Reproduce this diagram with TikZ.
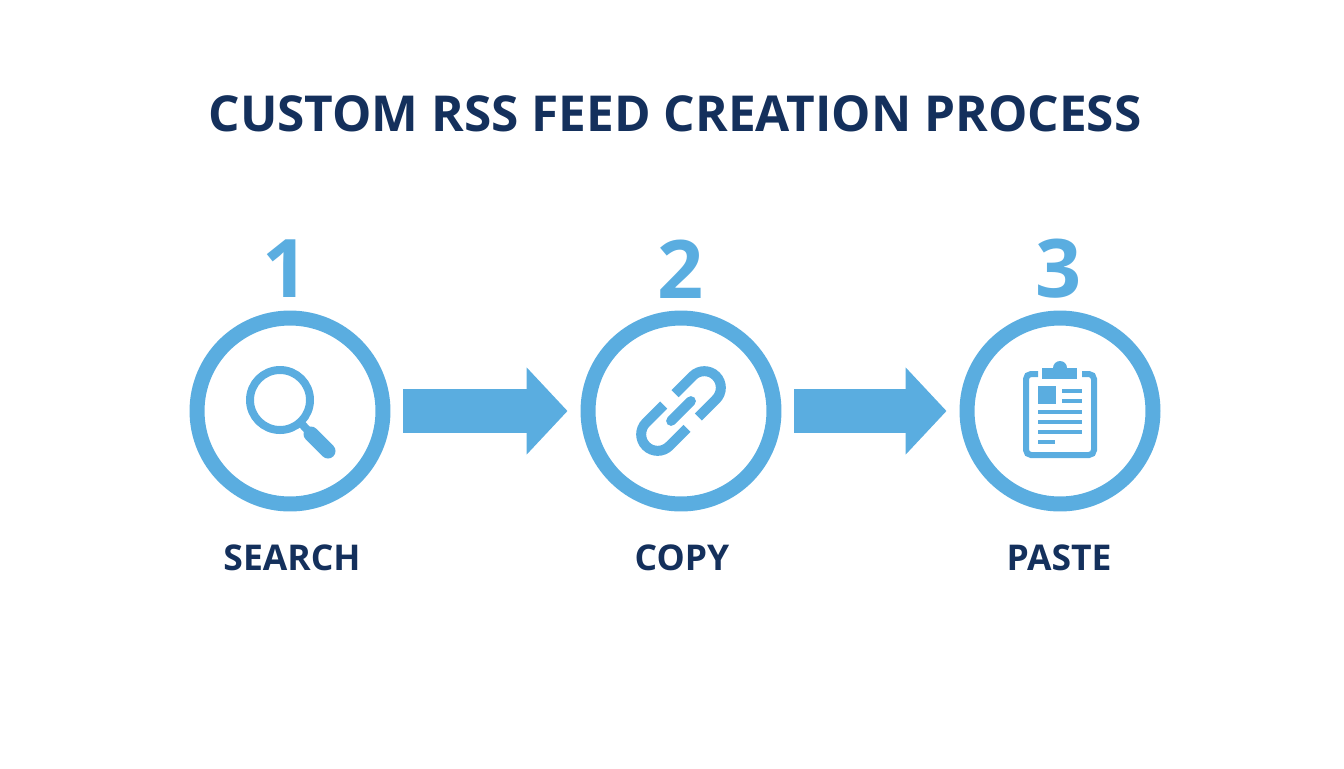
\documentclass[tikz,border=0pt]{standalone}
\usepackage{fontspec}
\setmainfont{Open Sans}
\usetikzlibrary{arrows.meta}
\definecolor{skyblue}{HTML}{5AADE0}
\definecolor{navy}{HTML}{14305C}

\begin{document}
\begin{tikzpicture}[
    x=0.02cm, y=0.02cm,
    ring/.style={circle, draw=skyblue, line width=0.3cm, minimum size=3.72cm, inner sep=0pt},
    arrow/.style={-{Triangle[length=8.2mm, width=17mm]}, draw=skyblue, line width=8.8mm, shorten <=2.6mm, shorten >=2.6mm},
    numeral/.style={text=skyblue, font=\fontsize{46}{46}\selectfont\bfseries},
    caption/.style={text=navy, font=\fontsize{20.2}{20.2}\selectfont\bfseries},
    icon/.style={draw=skyblue, line width=1.6mm, line cap=round},
    linkline/.style={draw=skyblue, line width=2mm},
    textline/.style={draw=skyblue, line width=0.9mm}
]
    \useasboundingbox (0,0) rectangle (1344,-768);

    \node[text=navy, font=\fontsize{28.2}{28.2}\selectfont\bfseries] (title) at (675,-114) {CUSTOM RSS FEED CREATION PROCESS};

    \node[ring] (search) at (290,-411) {};
    \node[ring] (copy) at (681,-411) {};
    \node[ring] (paste) at (1060,-411) {};

    \node[numeral] (one) at (286,-269) {1};
    \node[numeral] (two) at (681,-269) {2};
    \node[numeral] (three) at (1059,-269) {3};

    \node[caption] (searchlabel) at (292,-558) {SEARCH};
    \node[caption] (copylabel) at (682,-558) {COPY};
    \node[caption] (pastelabel) at (1059,-558) {PASTE};

    \draw[arrow] (search) -- (copy);
    \draw[arrow] (copy) -- (paste);

    % magnifier
    \draw[icon] (280,-400) circle (30);
    \draw[skyblue, line width=3mm, line cap=round] (311,-434) -- (328,-451);
    \draw[skyblue, line width=1.6mm] (300,-422) -- (311,-434);

    % chain
    \foreach \ang in {45,225} {
        \begin{scope}[shift={(681,-411)}, rotate=\ang]
            \draw[linkline] (8,16.5) -- (33,16.5) arc (90:-90:16.5) -- (8,-16.5);
        \end{scope}
    }
    \begin{scope}[shift={(681,-411)}, rotate=45]
        \draw[linkline, line cap=round] (-14,0) -- (14,0);
    \end{scope}

    % clipboard
    \draw[skyblue, line width=1.2mm, rounded corners=1mm] (1038,-374) -- (1026,-374) -- (1026,-455) -- (1094,-455) -- (1094,-374) -- (1082,-374);
    \fill[skyblue] (1042,-379) rectangle (1077,-368);
    \fill[skyblue] (1060,-368) circle (7);
    \fill[skyblue] (1038,-386) rectangle (1056,-404);
    \foreach \ypos in {391,401} {
        \draw[textline] (1062,-\ypos) -- (1082,-\ypos);
    }
    \foreach \ypos in {412,422,432} {
        \draw[textline] (1038,-\ypos) -- (1082,-\ypos);
    }
    \draw[textline] (1038,-442) -- (1055,-442);
\end{tikzpicture}
\end{document}
